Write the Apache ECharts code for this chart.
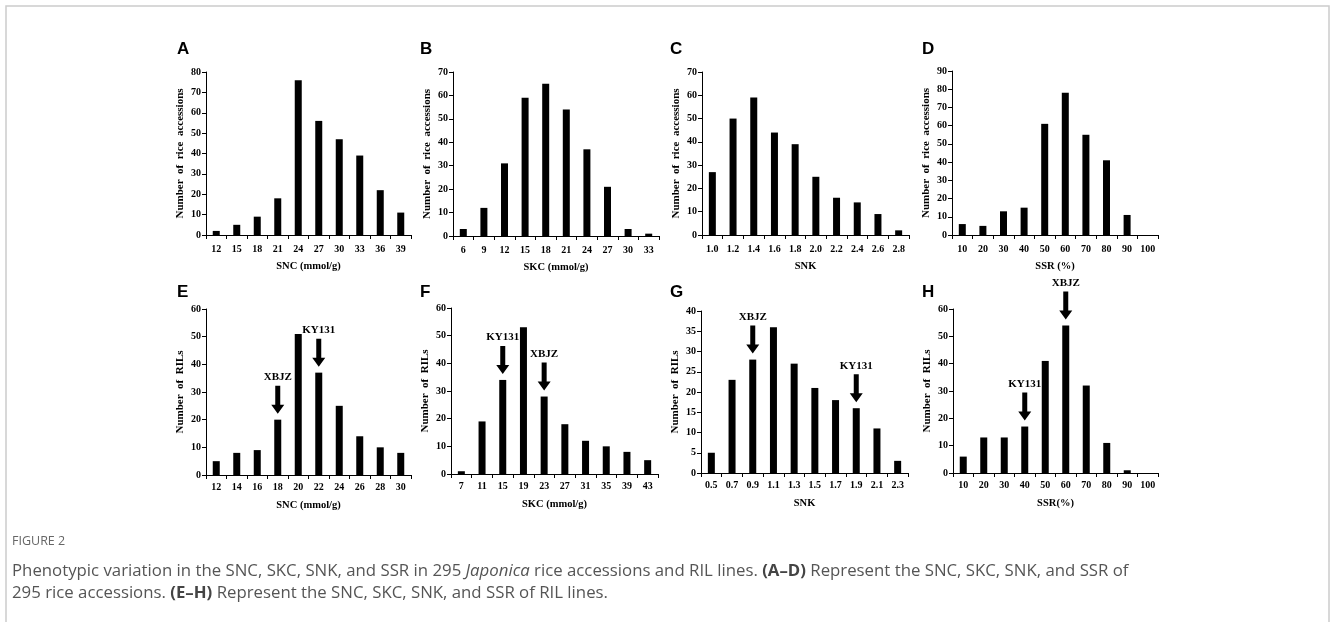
<!DOCTYPE html>
<html>
<head>
<meta charset="utf-8">
<script src="https://cdn.jsdelivr.net/npm/echarts@6/dist/echarts.min.js"></script>
<style>
html,body{margin:0;padding:0;background:#fff;}
#chart{width:1330px;height:622px;}
</style>
</head>
<body>
<div id="chart"></div>
<script>
// ---- data ----
const catA = ['12','15','18','21','24','27','30','33','36','39'];
const valA = [2,5,9,18,76,56,47,39,22,11];
const catB = ['6','9','12','15','18','21','24','27','30','33'];
const valB = [3,12,31,59,65,54,37,21,3,1];
const catC = ['1.0','1.2','1.4','1.6','1.8','2.0','2.2','2.4','2.6','2.8'];
const valC = [27,50,59,44,39,25,16,14,9,2];
const catD = ['10','20','30','40','50','60','70','80','90','100'];
const valD = [6,5,13,15,61,78,55,41,11,0];
const catE = ['12','14','16','18','20','22','24','26','28','30'];
const valE = [5,8,9,20,51,37,25,14,10,8];
const catF = ['7','11','15','19','23','27','31','35','39','43'];
const valF = [1,19,34,53,28,18,12,10,8,5];
const catG = ['0.5','0.7','0.9','1.1','1.3','1.5','1.7','1.9','2.1','2.3'];
const valG = [5,23,28,36,27,21,18,16,11,3];
const catH = ['10','20','30','40','50','60','70','80','90','100'];
const valH = [6,13,13,17,41,54,32,11,1,0];
// parent markers (label, category)
const arrowsE = [['XBJZ','18'],['KY131','22']];
const arrowsF = [['KY131','15'],['XBJZ','23']];
const arrowsG = [['XBJZ','0.9'],['KY131','1.9']];
const arrowsH = [['KY131','40'],['XBJZ','60']];
const yMax = [80,70,70,90,60,60,40,60];
const yStep = [10,10,10,10,10,10,5,10];
const xNames = ['SNC (mmol/g)','SKC (mmol/g)','SNK','SSR (%)','SNC (mmol/g)','SKC (mmol/g)','SNK','SSR(%)'];
const yNameTop = 'Number  of  rice  accessions';
const yNameBottom = 'Number  of  RILs';
const letters = ['A','B','C','D','E','F','G','H'];

// ---- layout ----
const grids = [
  {left:206, top:72, width:205, height:163},
  {left:453, top:72, width:206, height:164},
  {left:702, top:72, width:207, height:163},
  {left:952, top:71, width:206, height:164},
  {left:206, top:309, width:205, height:166},
  {left:451, top:308, width:207, height:166},
  {left:701, top:311, width:207, height:162},
  {left:953, top:309, width:205, height:164}
];
const letterPos = [[177,49],[420,49],[670,49],[922,49],[177,292],[420,292],[670,292],[922,292]];

const cats = [catA,catB,catC,catD,catE,catF,catG,catH];
const vals = [valA,valB,valC,valD,valE,valF,valG,valH];
const arrows = [null,null,null,null,arrowsE,arrowsF,arrowsG,arrowsH];

const SERIF = '"Liberation Serif","Times New Roman",serif';
const boldSerif = (size) => ({fontFamily:SERIF, fontWeight:'bold', fontSize:size, color:'#000'});

const xAxis = [], yAxis = [], series = [];
for (let i = 0; i < 8; i++) {
  const bottomRow = i >= 4;
  xAxis.push({
    type:'category', gridIndex:i, data:cats[i], boundaryGap:true,
    axisLine:{show:true, lineStyle:{color:'#000', width:1}},
    axisTick:{show:true, alignWithLabel:false, length:4, lineStyle:{color:'#000'}},
    axisLabel:Object.assign({interval:0, margin: bottomRow ? 7 : 9}, boldSerif(10)),
    name:xNames[i], nameLocation:'middle', nameGap: bottomRow ? 25 : 26,
    nameTextStyle:boldSerif(10.5),
    splitLine:{show:false}
  });
  yAxis.push({
    type:'value', gridIndex:i, min:0, max:yMax[i], interval:yStep[i],
    axisLine:{show:true, lineStyle:{color:'#000', width:1}},
    axisTick:{show:true, length:4, lineStyle:{color:'#000'}},
    axisLabel:Object.assign({margin:5}, boldSerif(10)),
    splitLine:{show:false},
    name: bottomRow ? yNameBottom : yNameTop, nameLocation:'middle', nameGap:20,
    nameTextStyle:boldSerif(11)
  });
  series.push({
    type:'bar', xAxisIndex:i, yAxisIndex:i, data:vals[i], barWidth:7,
    itemStyle:{color:'#000'}, silent:true, animation:false
  });
  if (arrows[i]) {
    const list = arrows[i];
    const ci = cats[i], vi = vals[i];
    series.push({
      type:'custom', xAxisIndex:i, yAxisIndex:i, clip:false, silent:true, animation:false,
      data: list.map(a => [ci.indexOf(a[1]), vi[ci.indexOf(a[1])]]),
      renderItem: function (params, api) {
        const p = api.coord([api.value(0), api.value(1)]);
        const x = p[0];
        const tipY = p[1] - 6;
        const topY = tipY - 28;
        const sw = 2.5, hw = 6.5, hl = 9;
        return {
          type:'group',
          children:[
            {type:'polygon', shape:{points:[[x-sw,topY],[x+sw,topY],[x+sw,tipY-hl],[x+hw,tipY-hl],[x,tipY],[x-hw,tipY-hl],[x-sw,tipY-hl]]},
             style:{fill:'#000'}},
            {type:'text', x:x, y:topY-3,
             style:{text:list[params.dataIndex][0], align:'center', verticalAlign:'bottom',
                    fontFamily:SERIF, fontWeight:'bold', fontSize:11, fill:'#000'}}
          ]
        };
      }
    });
  }
}

const graphic = [
  {type:'rect', silent:true, shape:{x:6, y:6, width:1323, height:700},
   style:{fill:'none', stroke:'#cccccc', lineWidth:1.5}}
];
letters.forEach((l, i) => {
  graphic.push({type:'text', silent:true, x:letterPos[i][0], y:letterPos[i][1],
    style:{text:l, fontFamily:'"Liberation Sans",Arial,sans-serif', fontWeight:'bold', fontSize:17,
           fill:'#000', verticalAlign:'middle', align:'left'}});
});
const capFont = '"Open Sans","Noto Sans",sans-serif';
const capSize = 16.8;
const rich = {
  i:{fontFamily:capFont, fontSize:capSize, fontStyle:'italic', fill:'#555555'},
  b:{fontFamily:capFont, fontSize:capSize, fontWeight:'bold', fill:'#444444'}
};
graphic.push({type:'text', silent:true, x:12, y:541,
  style:{text:'FIGURE 2', fontFamily:capFont, fontSize:12.5, fill:'#666666', verticalAlign:'middle'}});
graphic.push({type:'text', silent:true, x:12, y:571,
  style:{text:'Phenotypic variation in the SNC, SKC, SNK, and SSR in 295 {i|Japonica} rice accessions and RIL lines. {b|(A\u2013D)} Represent the SNC, SKC, SNK, and SSR of',
         rich:rich, fontFamily:capFont, fontSize:capSize, fill:'#555555', verticalAlign:'middle'}});
graphic.push({type:'text', silent:true, x:12, y:593,
  style:{text:'295 rice accessions. {b|(E\u2013H)} Represent the SNC, SKC, SNK, and SSR of RIL lines.',
         rich:rich, fontFamily:capFont, fontSize:capSize, fill:'#555555', verticalAlign:'middle'}});

const chart = echarts.init(document.getElementById('chart'), null, {renderer:'canvas'});
chart.setOption({
  animation:false,
  backgroundColor:'#ffffff',
  grid:grids,
  xAxis:xAxis,
  yAxis:yAxis,
  series:series,
  graphic:graphic
});
</script>
</body>
</html>
